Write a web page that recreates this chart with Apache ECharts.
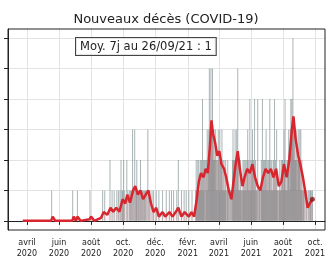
<!DOCTYPE html>
<html>
<head>
<meta charset="utf-8">
<script src="https://cdn.jsdelivr.net/npm/echarts@6/dist/echarts.min.js"></script>
<style>
  html, body { margin: 0; padding: 0; background: #fff; }
  #chart { width: 332px; height: 262px; }
</style>
</head>
<body>
<div id="chart"></div>
<script>
// décès quotidiens, un chiffre par jour, une chaîne par mois (début le 18/03/2020)
var startDay = '2020-03-18';
var daily2020 = [
  '00000000000000',
  '000000000000000000000000000000',
  '0000000000000000010000000000000',
  '000000000000000000000000001000',
  '0000010000000000000000000000010',
  '0000000000000000000000100010000',
  '000002000100010000100100102011',
  '0201000201001010103010301120110',
  '102010101011010030101000100100',
  '0010000100000010000001000001000'
];
var daily2021 = [
  '1000100000100200000100001000100',
  '0010000010000001211212112121',
  '4121202123123523532532322312213',
  '213212312121121012101010102321',
  '2321325121121101212121212312141',
  '212312141211041011012141212123',
  '1212124121211214121311011211212',
  '2132412112232134343632322321232',
  '23131210110100100101011011'
];

// moyenne 7 jours
var avgDates = ['2020-03-24','2020-05-17','2020-05-20','2020-05-25','2020-06-26','2020-06-29','2020-07-03','2020-07-06','2020-07-12','2020-07-29','2020-08-01','2020-08-07','2020-08-20','2020-08-25','2020-09-01','2020-09-07','2020-09-12','2020-09-18','2020-09-24','2020-09-30','2020-10-05','2020-10-09','2020-10-14','2020-10-20','2020-10-24','2020-10-29','2020-11-03','2020-11-08','2020-11-13','2020-11-18','2020-11-23','2020-11-28','2020-12-03','2020-12-08','2020-12-15','2020-12-20','2020-12-28','2021-01-03','2021-01-09','2021-01-14','2021-01-20','2021-01-26','2021-02-03','2021-02-08','2021-02-13','2021-02-18','2021-02-22','2021-02-26','2021-03-03','2021-03-07','2021-03-11','2021-03-15','2021-03-18','2021-03-21','2021-03-25','2021-03-29','2021-04-02','2021-04-06','2021-04-11','2021-04-15','2021-04-20','2021-04-25','2021-04-29','2021-05-03','2021-05-07','2021-05-11','2021-05-16','2021-05-20','2021-05-25','2021-05-30','2021-06-04','2021-06-09','2021-06-14','2021-06-19','2021-06-24','2021-06-29','2021-07-04','2021-07-09','2021-07-14','2021-07-19','2021-07-24','2021-07-29','2021-08-03','2021-08-08','2021-08-13','2021-08-18','2021-08-21','2021-08-25','2021-08-30','2021-09-03','2021-09-08','2021-09-12','2021-09-17','2021-09-21','2021-09-26'];
var avgValues = [0,0,0.14,0,0,0.14,0,0.14,0,0.05,0.14,0,0.1,0.29,0.2,0.43,0.3,0.43,0.3,0.71,0.57,0.86,0.6,1.0,1.14,0.86,1.0,0.71,0.86,1.0,0.57,0.29,0.43,0.14,0.29,0.14,0.29,0.14,0.29,0.43,0.14,0.29,0.14,0.29,0.14,0.71,1.29,1.57,1.43,1.71,1.57,2.43,3.3,2.86,2.57,2.14,2.29,1.86,1.71,1.43,1.0,0.71,1.29,1.86,2.29,1.71,1.14,1.43,1.71,1.57,1.86,1.43,1.14,1.0,1.43,1.71,1.57,1.71,1.43,1.71,1.14,1.29,1.86,1.43,2.0,3.0,3.43,2.71,2.14,1.86,1.43,1.0,0.43,0.57,0.71];

var tickDates = ['2020-04-01','2020-06-01','2020-08-01','2020-10-01','2020-12-01','2021-02-01','2021-04-01','2021-06-01','2021-08-01','2021-10-01'];
var tickLabels = ['avril\n2020','juin\n2020','août\n2020','oct.\n2020','déc.\n2020','févr.\n2021','avril\n2021','juin\n2021','août\n2021','oct.\n2021'];
var yTicks = [0, 1, 2, 3, 4, 5, 6];

var DAY = 86400000;
var barData = [];
var t = Date.parse(startDay);
daily2020.concat(daily2021).forEach(function (m) {
  for (var i = 0; i < m.length; i++) {
    barData.push([t, +m[i]]);
    t += DAY;
  }
});
var lineData = avgDates.map(function (d, i) { return [Date.parse(d), avgValues[i]]; });
var lastPoint = lineData[lineData.length - 1];
var tickValues = tickDates.map(function (d) { return Date.parse(d); });

var myChart = echarts.init(document.getElementById('chart'));
var option = {
  animation: false,
  textStyle: { fontFamily: 'DejaVu Sans' },
  title: {
    text: 'Nouveaux décès (COVID-19)',
    left: 'center', top: 8,
    textStyle: { fontSize: 13, fontWeight: 'normal', color: '#222', fontFamily: 'DejaVu Sans' }
  },
  grid: { left: 8, right: 7, top: 29, bottom: 32, outerBoundsMode: 'none' },
  xAxis: {
    type: 'value',
    min: Date.parse('2020-02-25'),
    max: Date.parse('2021-10-20'),
    axisLine: { lineStyle: { color: '#222', width: 1 } },
    axisTick: { show: true, length: 4, customValues: tickValues, lineStyle: { color: '#222' } },
    axisLabel: {
      customValues: tickValues,
      fontSize: 8, lineHeight: 11, color: '#222', margin: 7, hideOverlap: false,
      formatter: function (v) {
        var i = tickValues.indexOf(v);
        return i >= 0 ? tickLabels[i] : '';
      }
    },
    splitLine: { show: true, lineStyle: { color: '#e3e3e3', width: 1 } }
  },
  yAxis: {
    type: 'value',
    min: -0.3, max: 6.3,
    axisLine: { show: true, lineStyle: { color: '#222' } },
    axisTick: { show: true, length: 4, customValues: yTicks, lineStyle: { color: '#222' } },
    axisLabel: { show: false, customValues: yTicks },
    splitLine: { show: true, lineStyle: { color: '#e3e3e3', width: 1 } }
  },
  series: [
    {
      name: 'Décès',
      type: 'bar',
      data: barData,
      barWidth: 1,
      itemStyle: { color: 'rgba(125,140,142,0.65)' },
      z: 2
    },
    {
      name: 'Moyenne 7j',
      type: 'line',
      data: lineData,
      showSymbol: false,
      symbol: 'none',
      lineStyle: { color: '#d8252e', width: 2.5 },
      itemStyle: { color: '#d8252e' },
      areaStyle: { color: 'rgba(230,60,70,0.12)', origin: 0 },
      z: 3
    },
    {
      name: 'Dernier',
      type: 'scatter',
      data: [lastPoint],
      symbolSize: 5,
      itemStyle: { color: '#8b1a1a' },
      z: 4
    }
  ],
  graphic: [
    {
      type: 'rect', z: 100, silent: true,
      shape: { x: 8, y: 29, width: 317, height: 201 },
      style: { fill: 'none', stroke: '#222', lineWidth: 1 }
    },
    {
      type: 'text', z: 101, left: 75, top: 37,
      style: {
        text: 'Moy. 7j au 26/09/21 : 1',
        fontSize: 11.5, fontFamily: 'DejaVu Sans', fill: '#222',
        backgroundColor: 'rgba(255,255,255,0.85)',
        borderColor: '#444', borderWidth: 1,
        padding: [3, 4, 2, 4]
      }
    }
  ]
};
myChart.setOption(option);
</script>
</body>
</html>
